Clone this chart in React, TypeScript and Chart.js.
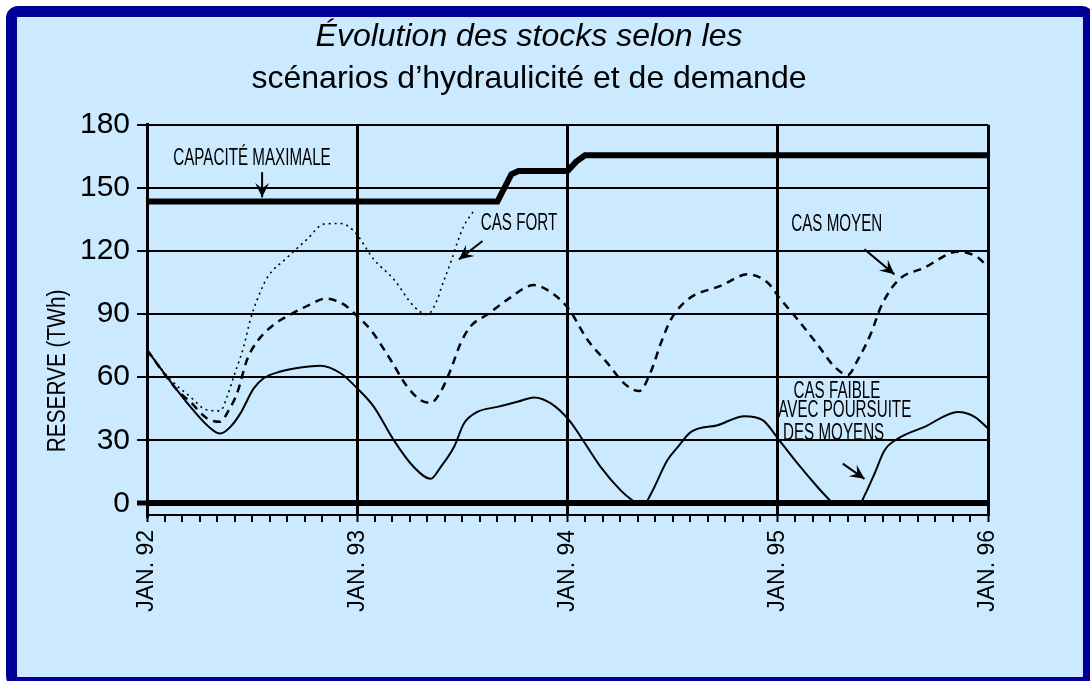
import React, { useEffect, useRef } from 'react';
import { Chart, registerables } from 'chart.js';

Chart.register(...registerables);

const FONT = "'Liberation Sans', Arial, sans-serif";

const titleLine1 = 'Évolution des stocks selon les';
const titleLine2 = 'scénarios d’hydraulicité et de demande';
const yAxisTitle = 'RESERVE (TWh)';

const yearTickLabels = ['JAN. 92', 'JAN. 93', 'JAN. 94', 'JAN. 95', 'JAN. 96'];
const monthTicks = Array.from({ length: 49 }, (_, i) => i);
const yTickValues = [0, 30, 60, 90, 120, 150, 180];

// [month since Jan 92, TWh]
const capaciteMaximale: [number, number][] = [
  [0, 143.5], [20, 143.5], [20.4, 150], [20.8, 156.5], [21.2, 158], [24, 158],
  [24.5, 162.5], [25, 165.5], [48, 165.5],
];

const casFaible: [number, number][] = [
  [0, 73], [1.33, 58], [2.47, 46], [3.43, 37.2], [4.18, 33.2], [4.76, 36.4], [5.33, 42.8],
  [6.09, 54.7], [6.66, 59.5], [7.62, 62.7], [8.76, 64.6], [9.9, 65.5], [11.05, 61.9],
  [12, 54.7], [12.95, 45.9], [14.09, 30], [15.23, 17.3], [16.19, 11.7], [16.76, 17.3],
  [17.52, 26.8], [18.09, 38], [18.86, 43.5], [20, 45.9], [21.14, 48.3], [22.09, 50.4],
  [23.05, 47.6], [24.09, 39.6], [24.76, 31.6], [25.9, 17.3], [27.05, 6.1], [27.7, 1.5],
  [28, 0], [28.4, 0], [28.76, 4.5], [29.7, 20.5], [30.29, 26.8], [31.05, 34], [32.57, 37.2],
  [34.1, 41.5], [35.14, 39.6], [36.09, 30], [37.14, 18.9], [38.28, 7.7], [38.86, 2.5],
  [39.2, 0], [40.7, 0], [40.95, 3.7], [41.52, 14.1], [42.09, 25.2], [42.86, 30.8],
  [44.38, 36.4], [46.29, 43.5], [47.24, 41.2], [48, 35.6],
];

const casMoyen: [number, number][] = [
  [0, 73], [1.71, 54], [2.47, 48.3], [3.43, 40.4], [4.18, 38.8], [4.67, 44.4], [5.14, 52.3],
  [5.71, 68.3], [6.29, 77], [7.24, 85], [8.19, 89.8], [9.33, 94.6], [10.19, 97.4],
  [11.23, 94.6], [11.9, 89.8], [12.76, 82.6], [13.9, 68.3], [14.85, 55.5], [15.62, 49.1],
  [16.19, 47.8], [16.76, 53.1], [17.33, 63.5], [17.9, 76.2], [18.47, 84.2], [19.43, 89.8],
  [20.57, 96.9], [22.09, 103.8], [23.23, 99.3], [24.09, 92.2], [25.14, 77.8], [26.28, 66.7],
  [27.23, 57.1], [28.09, 53.4], [28.76, 62.7], [29.33, 76.2], [29.9, 87.4], [30.86, 96.9],
  [32.76, 103.5], [34.29, 108.9], [35.43, 104.9], [36.09, 97.8], [37.14, 87.4], [38.28, 75.4],
  [39.23, 65.1], [40, 61.1], [40.57, 68.3], [41.33, 81], [41.9, 93.7], [42.86, 106],
  [44.38, 112.1], [46.29, 119.7], [47.43, 116.9], [48, 112.1],
];

const casFort: [number, number][] = [
  [0, 73], [1.33, 59], [2.47, 50.7], [3.43, 44.4], [4.18, 44], [4.57, 50.7], [4.95, 60.3],
  [5.52, 74.6], [5.9, 87.4], [6.29, 96.9], [6.86, 107.3], [8, 116.9], [9.14, 125.6],
  [10.09, 132.8], [11.05, 133.1], [11.8, 129.6], [12.95, 116], [14.09, 106.5], [15.23, 93.7],
  [16, 89.8], [16.57, 96.9], [16.76, 101.7], [17.33, 114.5], [17.71, 124], [18.09, 132],
  [18.66, 139.2],
];

// annotation anchors in data units
const annotationTexts = ['CAPACITÉ MAXIMALE', 'CAS FORT', 'CAS MOYEN', 'CAS FAIBLE', 'AVEC POURSUITE', 'DES MOYENS'];
const annotationAnchors: [number, number][] = [
  [1.5, 164], [19.05, 132.8], [36.77, 132.3], [36.9, 53.2], [36.03, 43.9], [36.3, 33.4],
];
const arrowSegments: [number, number, number, number][] = [
  [6.57, 157.5, 6.57, 145.5],
  [19.15, 124.8, 17.8, 116],
  [40.95, 120.8, 42.66, 108.9],
  [39.71, 18.9, 40.95, 11.7],
];

const toPoints = (arr: [number, number][]) => arr.map(([x, y]) => ({ x, y }));

const overlayPlugin = {
  id: 'overlay',
  afterDraw(chart: any) {
    const { ctx, scales } = chart;
    const xs = scales.x;
    const ys = scales.y;
    ctx.save();
    ctx.fillStyle = '#000';
    ctx.strokeStyle = '#000';

    // y axis title
    ctx.save();
    ctx.translate(chart.chartArea.left - 89, ys.getPixelForValue(63));
    ctx.rotate(-Math.PI / 2);
    ctx.scale(0.8, 1);
    ctx.font = `26px ${FONT}`;
    ctx.textAlign = 'center';
    ctx.textBaseline = 'middle';
    ctx.fillText(yAxisTitle, 0, 0);
    ctx.restore();

    // annotation texts
    ctx.font = `23px ${FONT}`;
    ctx.textAlign = 'left';
    ctx.textBaseline = 'middle';
    annotationTexts.forEach((t, i) => {
      const [mx, my] = annotationAnchors[i];
      ctx.save();
      ctx.translate(xs.getPixelForValue(mx), ys.getPixelForValue(my));
      ctx.scale(0.66, 1);
      ctx.fillText(t, 0, 0);
      ctx.restore();
    });

    // arrows
    ctx.lineWidth = 2;
    arrowSegments.forEach(([x1, y1, x2, y2]) => {
      const px1 = xs.getPixelForValue(x1);
      const py1 = ys.getPixelForValue(y1);
      const px2 = xs.getPixelForValue(x2);
      const py2 = ys.getPixelForValue(y2);
      ctx.beginPath();
      ctx.moveTo(px1, py1);
      ctx.lineTo(px2, py2);
      ctx.stroke();
      const ang = Math.atan2(py2 - py1, px2 - px1);
      const len = 16;
      const w = 0.45;
      ctx.beginPath();
      ctx.moveTo(px2, py2);
      ctx.lineTo(px2 - len * Math.cos(ang - w), py2 - len * Math.sin(ang - w));
      ctx.lineTo(px2 - len * 0.55 * Math.cos(ang), py2 - len * 0.55 * Math.sin(ang));
      ctx.lineTo(px2 - len * Math.cos(ang + w), py2 - len * Math.sin(ang + w));
      ctx.closePath();
      ctx.fill();
    });
    ctx.restore();
  },
};

export default function App() {
  const canvasRef = useRef<HTMLCanvasElement | null>(null);

  useEffect(() => {
    if (!canvasRef.current) return;
    const chart = new Chart(canvasRef.current, {
      type: 'line',
      data: {
        datasets: [
          {
            label: 'Capacité maximale',
            data: toPoints(capaciteMaximale),
            borderColor: '#000',
            borderWidth: 6,
            pointRadius: 0,
            tension: 0,
          },
          {
            label: 'Cas faible',
            data: toPoints(casFaible),
            borderColor: '#000',
            borderWidth: 2,
            pointRadius: 0,
            cubicInterpolationMode: 'monotone',
          },
          {
            label: 'Cas moyen',
            data: toPoints(casMoyen),
            borderColor: '#000',
            borderWidth: 2.5,
            borderDash: [8, 6],
            pointRadius: 0,
            cubicInterpolationMode: 'monotone',
          },
          {
            label: 'Cas fort',
            data: toPoints(casFort),
            borderColor: '#000',
            borderWidth: 1.6,
            borderDash: [2, 4],
            pointRadius: 0,
            cubicInterpolationMode: 'monotone',
          },
        ] as any,
      },
      options: {
        responsive: false,
        animation: false,
        events: [],
        layout: { padding: { left: 70, right: 102, top: 0, bottom: 0 } },
        plugins: {
          legend: { display: false },
          tooltip: { enabled: false },
          title: {
            display: true,
            text: titleLine1,
            color: '#000',
            font: { family: FONT, size: 32, style: 'italic', weight: 'normal' },
            padding: { top: 18, bottom: 0 },
          },
          subtitle: {
            display: true,
            text: titleLine2,
            color: '#000',
            font: { family: FONT, size: 32, weight: 'normal' },
            padding: { top: 4, bottom: 26 },
          },
        },
        scales: {
          x: {
            type: 'linear',
            min: 0,
            max: 48,
            afterFit: (s: any) => { s.height = 166; },
            afterBuildTicks: (s: any) => { s.ticks = monthTicks.map((v) => ({ value: v })); },
            ticks: {
              autoSkip: false,
              maxRotation: 90,
              minRotation: 90,
              padding: 8,
              color: '#000',
              font: { family: FONT, size: 23 },
              callback: (v: any) => (Number(v) % 12 === 0 ? yearTickLabels[Number(v) / 12] : ''),
            },
            grid: {
              color: '#000',
              lineWidth: (c: any) => (c.tick && c.tick.value % 12 === 0 ? 3 : 0),
              tickLength: 7,
              tickWidth: 2,
              tickColor: '#000',
            },
            border: { display: true, color: '#000', width: 2 },
          },
          y: {
            type: 'linear',
            min: -5.5,
            max: 180,
            afterFit: (s: any) => { s.width = 77; },
            afterBuildTicks: (s: any) => { s.ticks = yTickValues.map((v) => ({ value: v })); },
            ticks: {
              autoSkip: false,
              color: '#000',
              padding: 7,
              font: { family: FONT, size: 30 },
            },
            grid: {
              color: '#000',
              lineWidth: (c: any) => (c.tick && c.tick.value === 0 ? 6 : 2),
              tickLength: 10,
              tickWidth: (c: any) => (c.tick && c.tick.value === 0 ? 5 : 2),
              tickColor: '#000',
            },
            border: { display: true, color: '#000', width: 3 },
          },
        },
      } as any,
      plugins: [overlayPlugin],
    });
    return () => chart.destroy();
  }, []);

  return (
    <div style={{ position: 'fixed', left: 0, top: 0, width: 1090, height: 681, overflow: 'hidden', background: '#fff' }}>
      <div
        style={{
          position: 'absolute',
          left: 6,
          top: 6,
          width: 1088,
          height: 682,
          boxSizing: 'border-box',
          border: '11px solid #000099',
          borderRadius: 12,
          background: '#cceaff',
        }}
      />
      <canvas ref={canvasRef} width={1090} height={681} style={{ position: 'absolute', left: 0, top: 0 }} />
    </div>
  );
}
